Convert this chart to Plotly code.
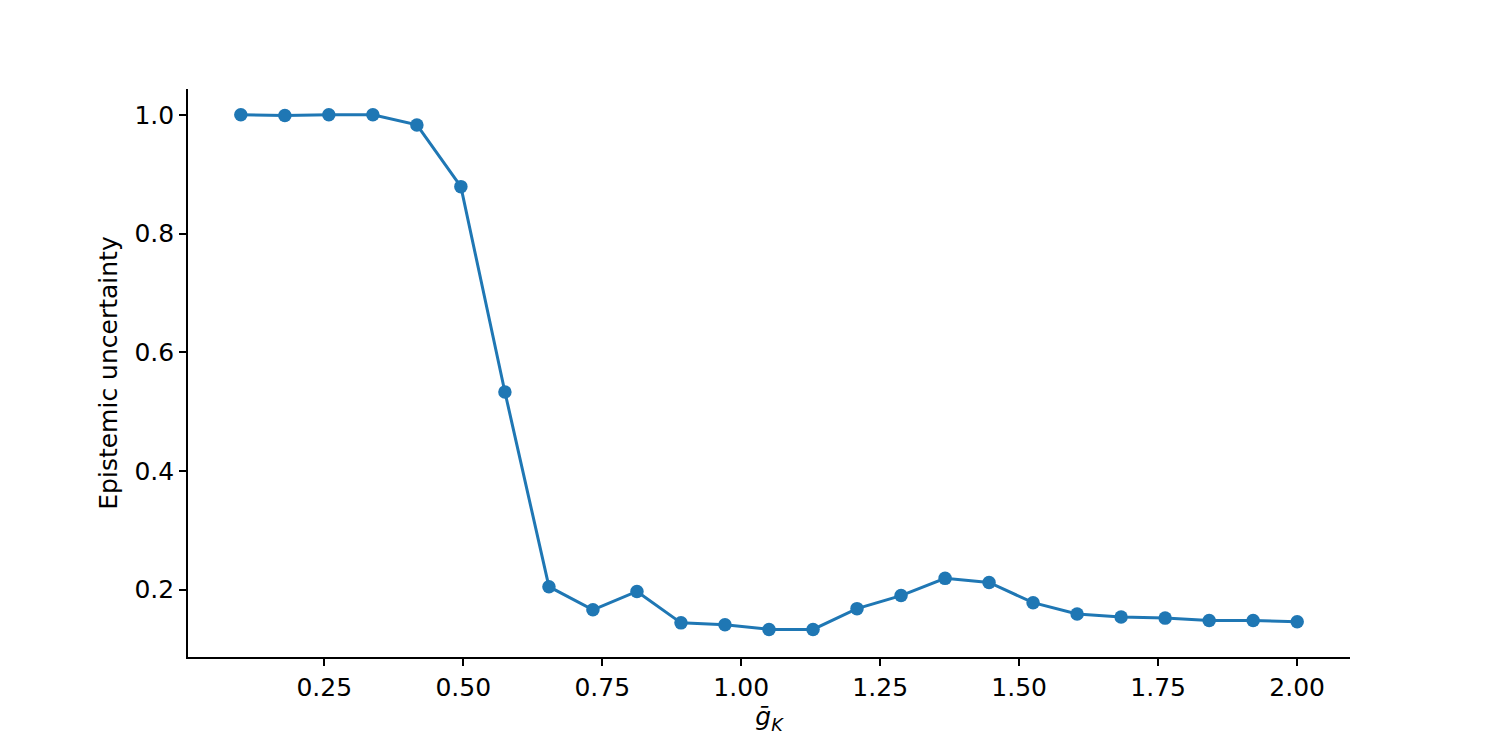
import plotly.graph_objects as go

# Data
g_K = [0.1, 0.1792, 0.2583, 0.3375, 0.4167, 0.4958, 0.575, 0.6542, 0.7333, 0.8125,
       0.8917, 0.9708, 1.05, 1.1292, 1.2083, 1.2875, 1.3667, 1.4458, 1.525, 1.6042,
       1.6833, 1.7625, 1.8417, 1.9208, 2.0]
epistemic = [1.0, 0.999, 1.0, 1.0, 0.983, 0.879, 0.533, 0.205, 0.166, 0.197,
             0.144, 0.141, 0.133, 0.133, 0.168, 0.190, 0.219, 0.212, 0.178, 0.159,
             0.154, 0.152, 0.148, 0.148, 0.146]

x_ticks = [0.25, 0.5, 0.75, 1.0, 1.25, 1.5, 1.75, 2.0]
y_ticks = [0.2, 0.4, 0.6, 0.8, 1.0]

BLUE = "#1f77b4"
FONT = "DejaVu Sans"
FS = 25

fig = go.Figure()
fig.add_trace(go.Scatter(
    x=g_K, y=epistemic, mode="lines+markers",
    line=dict(color=BLUE, width=3),
    marker=dict(color=BLUE, size=13.5),
    showlegend=False,
))

axis_common = dict(
    showline=True, linecolor="black", linewidth=1.67, mirror=False,
    ticks="outside", ticklen=7, tickwidth=1.67, tickcolor="black",
    showgrid=False, zeroline=False,
    tickfont=dict(family=FONT, size=FS, color="black"),
)

fig.update_layout(
    width=1500, height=750,
    paper_bgcolor="white", plot_bgcolor="white",
    margin=dict(l=179.5, r=158, t=81, b=101, pad=0),
    font=dict(family=FONT, size=FS, color="black"),
    xaxis=dict(
        range=[0.005, 2.095], tickvals=x_ticks,
        ticktext=[f"{v:.2f}" for v in x_ticks],
        title=dict(text="<i>ḡ</i><sub><i>K</i></sub>", standoff=7,
                   font=dict(family=FONT, size=FS, color="black")),
        **axis_common,
    ),
    yaxis=dict(
        range=[0.0865, 1.0435], tickvals=y_ticks,
        ticktext=[f"{v:.1f}" for v in y_ticks],
        title=dict(text="Epistemic uncertainty", standoff=10,
                   font=dict(family=FONT, size=FS, color="black")),
        **axis_common,
    ),
)

fig.write_html("out.html")
